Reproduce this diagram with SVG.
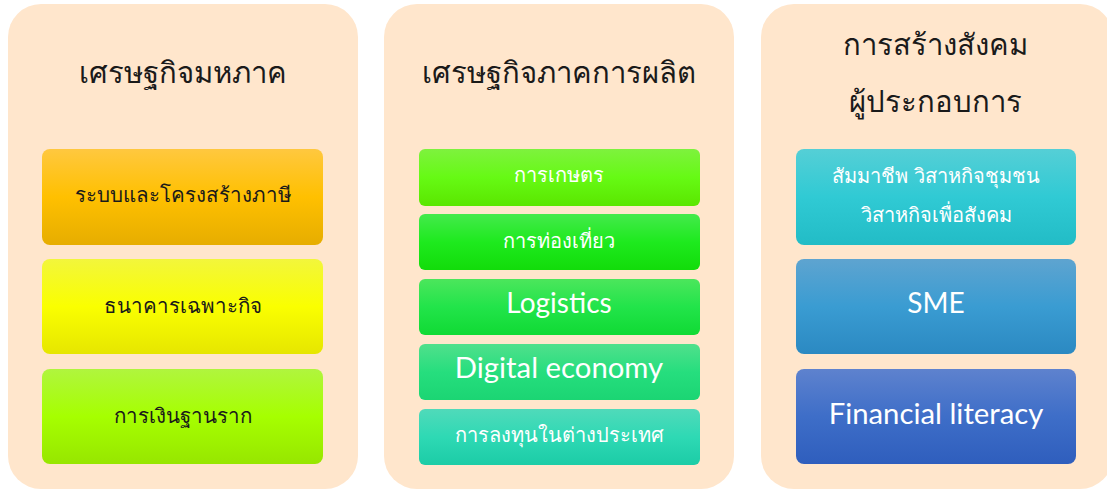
<svg xmlns="http://www.w3.org/2000/svg" width="1107" height="490" viewBox="0 0 1107 490">
<defs>
<linearGradient id="gL1" x1="0" y1="0" x2="0" y2="1"><stop offset="0" stop-color="#FFC83F"/><stop offset="0.5" stop-color="#FFC000"/><stop offset="1" stop-color="#E6AD00"/></linearGradient>
<linearGradient id="gL2" x1="0" y1="0" x2="0" y2="1"><stop offset="0" stop-color="#F2F63C"/><stop offset="0.5" stop-color="#FAFF00"/><stop offset="1" stop-color="#E6E600"/></linearGradient>
<linearGradient id="gL3" x1="0" y1="0" x2="0" y2="1"><stop offset="0" stop-color="#B0F53E"/><stop offset="0.5" stop-color="#A6FF00"/><stop offset="1" stop-color="#97E600"/></linearGradient>
<linearGradient id="gM1" x1="0" y1="0" x2="0" y2="1"><stop offset="0" stop-color="#7EF23E"/><stop offset="0.5" stop-color="#66FA14"/><stop offset="1" stop-color="#5AE600"/></linearGradient>
<linearGradient id="gM2" x1="0" y1="0" x2="0" y2="1"><stop offset="0" stop-color="#44EA4C"/><stop offset="0.5" stop-color="#1EEA1E"/><stop offset="1" stop-color="#12DC0A"/></linearGradient>
<linearGradient id="gM3" x1="0" y1="0" x2="0" y2="1"><stop offset="0" stop-color="#4CE65C"/><stop offset="0.5" stop-color="#22E44A"/><stop offset="1" stop-color="#10DA34"/></linearGradient>
<linearGradient id="gM4" x1="0" y1="0" x2="0" y2="1"><stop offset="0" stop-color="#50E08C"/><stop offset="0.5" stop-color="#26DE7E"/><stop offset="1" stop-color="#1BD573"/></linearGradient>
<linearGradient id="gM5" x1="0" y1="0" x2="0" y2="1"><stop offset="0" stop-color="#50DABA"/><stop offset="0.5" stop-color="#2ED9B4"/><stop offset="1" stop-color="#1CCCA6"/></linearGradient>
<linearGradient id="gR1" x1="0" y1="0" x2="0" y2="1"><stop offset="0" stop-color="#55CFD6"/><stop offset="0.5" stop-color="#30CAD4"/><stop offset="1" stop-color="#22BCC6"/></linearGradient>
<linearGradient id="gR2" x1="0" y1="0" x2="0" y2="1"><stop offset="0" stop-color="#5EA4D0"/><stop offset="0.5" stop-color="#3A9CD2"/><stop offset="1" stop-color="#2B89C2"/></linearGradient>
<linearGradient id="gR3" x1="0" y1="0" x2="0" y2="1"><stop offset="0" stop-color="#5E82CE"/><stop offset="0.5" stop-color="#3E6EC8"/><stop offset="1" stop-color="#2F5EBD"/></linearGradient>
</defs>
<style>
.panel{fill:#FFE6CC}
.title{font-family:"Noto Sans","Noto Sans CJK SC",sans-serif;font-size:29.3px;font-weight:300;fill:#1a1a1a;text-anchor:middle}
.dk{font-family:"Noto Sans","Noto Sans CJK SC",sans-serif;font-size:20.5px;font-weight:300;fill:#1a1a1a;text-anchor:middle}
.wt{font-family:"Noto Sans","Noto Sans CJK SC",sans-serif;font-size:20px;font-weight:300;fill:#ffffff;text-anchor:middle}
.en{font-family:Lato,"Open Sans",sans-serif;font-size:28px;fill:#ffffff;text-anchor:middle}
.en2{font-size:29.3px}
</style>
<g id="panel-macro">
<rect class="panel" x="8" y="4" width="350" height="485" rx="33"/>
<text class="title" x="183" y="83">เศรษฐกิจมหภาค</text>
</g>
<g id="node-tax">
<rect x="42" y="149" width="281" height="96" rx="8" fill="url(#gL1)"/>
<text class="dk" x="183" y="202">ระบบและโครงสร้างภาษี</text>
</g>
<g id="node-sfi">
<rect x="42" y="259" width="281" height="95" rx="8" fill="url(#gL2)"/>
<text class="dk" x="183" y="313">ธนาคารเฉพาะกิจ</text>
</g>
<g id="node-grassroots">
<rect x="42" y="369" width="281" height="95" rx="8" fill="url(#gL3)"/>
<text class="dk" x="183" y="423">การเงินฐานราก</text>
</g>
<g id="panel-production">
<rect class="panel" x="384" y="4" width="350" height="485" rx="33"/>
<text class="title" x="559" y="83">เศรษฐกิจภาคการผลิต</text>
</g>
<g id="node-agri">
<rect x="419" y="149" width="281" height="57" rx="6" fill="url(#gM1)"/>
<text class="wt" x="559" y="182">การเกษตร</text>
</g>
<g id="node-tourism">
<rect x="419" y="214" width="281" height="56" rx="6" fill="url(#gM2)"/>
<text class="wt" x="559" y="248">การท่องเที่ยว</text>
</g>
<g id="node-logistics">
<rect x="419" y="279" width="281" height="56" rx="6" fill="url(#gM3)"/>
<text class="en" x="559" y="313">Logistics</text>
</g>
<g id="node-digital">
<rect x="419" y="344" width="281" height="56" rx="6" fill="url(#gM4)"/>
<text class="en en2" x="559" y="378">Digital economy</text>
</g>
<g id="node-invest">
<rect x="419" y="409" width="281" height="56" rx="6" fill="url(#gM5)"/>
<text class="wt" x="559" y="442">การลงทุนในต่างประเทศ</text>
</g>
<g id="panel-entrepreneur">
<rect class="panel" x="761" y="4" width="352" height="485" rx="33"/>
<text class="title" x="935" y="55">การสร้างสังคม</text>
<text class="title" x="935" y="112">ผู้ประกอบการ</text>
</g>
<g id="node-coop">
<rect x="796" y="149" width="280" height="96" rx="8" fill="url(#gR1)"/>
<text class="wt" x="936" y="183">สัมมาชีพ วิสาหกิจชุมชน</text>
<text class="wt" x="936" y="222">วิสาหกิจเพื่อสังคม</text>
</g>
<g id="node-sme">
<rect x="796" y="259" width="280" height="95" rx="8" fill="url(#gR2)"/>
<text class="en" x="936" y="313">SME</text>
</g>
<g id="node-finlit">
<rect x="796" y="369" width="280" height="95" rx="8" fill="url(#gR3)"/>
<text class="en en2" x="936" y="424">Financial literacy</text>
</g>
<g id="connectors"/>
</svg>
